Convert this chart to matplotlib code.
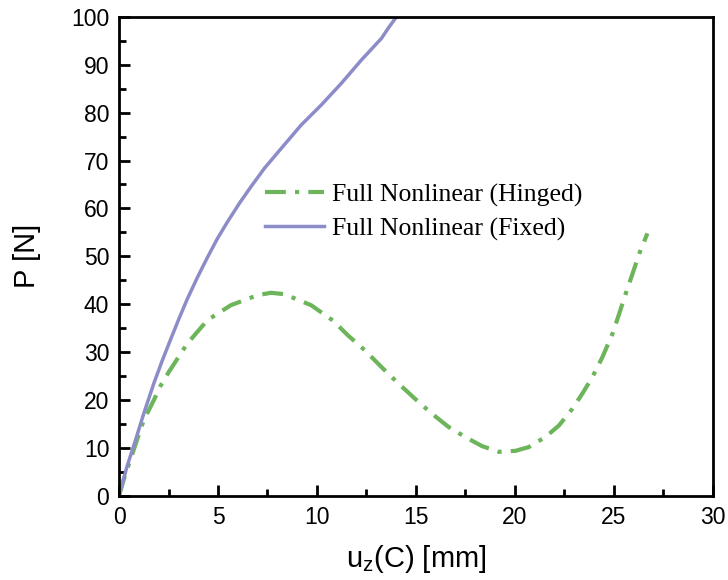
import matplotlib
matplotlib.use("Agg")
import matplotlib.pyplot as plt
from matplotlib.ticker import MultipleLocator

# %% data
hinged_x = [0.0, 0.23, 0.57, 0.91, 1.25, 1.76, 2.1, 2.52, 3.45, 4.47, 5.65,
            7.0, 7.68, 8.36, 9.71, 10.81, 11.57, 12.42, 13.26, 14.11, 14.95,
            15.8, 16.65, 17.49, 18.34, 19.19, 20.03, 20.71, 21.55, 22.23,
            22.91, 23.42, 23.92, 24.43, 24.94, 25.28, 25.61, 25.95, 26.29,
            26.7]
hinged_y = [0.0, 3.3, 7.5, 11.7, 15.8, 20.0, 23.0, 25.9, 31.8, 36.7, 39.8,
            41.9, 42.4, 42.1, 39.8, 36.6, 33.5, 30.4, 26.9, 23.5, 20.3,
            17.2, 14.4, 12.3, 10.4, 9.2, 9.4, 10.2, 12.3, 14.7,
            18.2, 21.4, 24.8, 29.0, 33.9, 38.1, 42.3, 46.4, 50.6,
            54.8]

fixed_x = [0.0, 0.4, 0.83, 1.25, 1.76, 2.18, 2.6, 3.02, 3.45, 3.96, 4.47,
           4.97, 5.48, 6.07, 6.66, 7.35, 8.19, 9.2, 10.22, 11.23, 12.25,
           13.26, 13.6, 14.02]
fixed_y = [0.0, 6.1, 11.6, 17.2, 23.5, 28.2, 32.6, 36.9, 41.1, 45.6, 49.8,
           53.7, 57.2, 61.0, 64.5, 68.4, 72.5, 77.4, 81.6, 86.1, 91.0,
           95.5, 97.6, 100.0]

labels = ["Full Nonlinear (Hinged)", "Full Nonlinear (Fixed)"]
green = "#6db55a"
purple = "#8c8cc8"

# %% figure
plt.rcParams["font.family"] = ["Liberation Sans", "DejaVu Sans"]
fig = plt.figure(figsize=(7.28, 5.8), dpi=100)
ax = fig.add_axes([0.1635, 0.145, 0.8155, 0.826])

ax.plot(hinged_x, hinged_y, color=green, lw=3, ls=(0, (5, 2.2, 1, 2.2)),
        label=labels[0])
ax.plot(fixed_x, fixed_y, color=purple, lw=2.5, ls="-", label=labels[1])

ax.set_xlim(0, 30)
ax.set_ylim(0, 100)
ax.xaxis.set_major_locator(MultipleLocator(5))
ax.xaxis.set_minor_locator(MultipleLocator(2.5))
ax.yaxis.set_major_locator(MultipleLocator(10))
ax.yaxis.set_minor_locator(MultipleLocator(5))
ax.tick_params(which="both", direction="in", width=2, labelsize=16.5,
               top=False, right=False)
ax.tick_params(which="major", length=8, pad=7)
ax.tick_params(which="minor", length=5)
for s in ax.spines.values():
    s.set_linewidth(2)

ax.set_xlabel(r"u$_\mathregular{z}$(C) [mm]", fontsize=21, labelpad=10)
ax.set_ylabel("P [N]", fontsize=21, labelpad=22)

ax.legend(loc="center left", bbox_to_anchor=(265 / 728, 1 - 212 / 580),
          bbox_transform=fig.transFigure, frameon=False, borderpad=0,
          borderaxespad=0,
          prop={"family": "Liberation Serif", "size": 18.5},
          handlelength=2.3, handletextpad=0.3, labelspacing=0.4)

fig.savefig("out.png", dpi=100)
